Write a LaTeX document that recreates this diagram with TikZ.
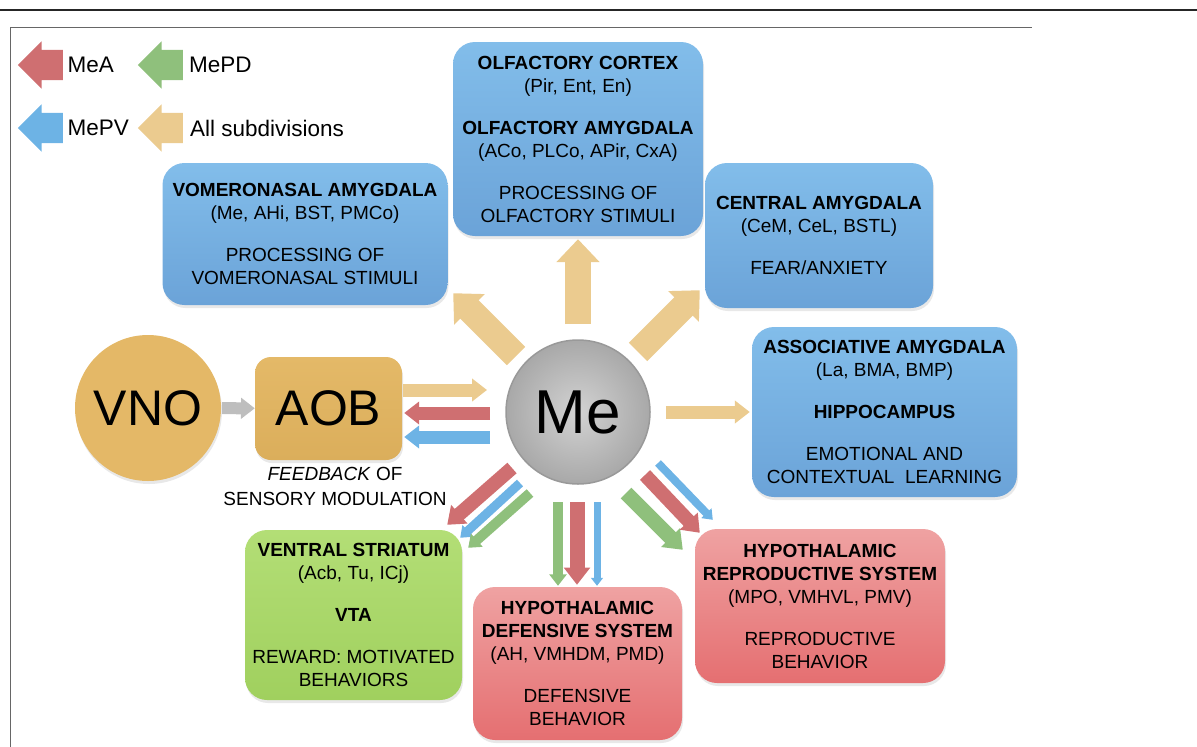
\documentclass[tikz,border=0pt]{standalone}
\usepackage{fontspec}
\setmainfont{Liberation Sans}
\usetikzlibrary{arrows.meta,shapes.arrows,shadows}

\definecolor{boxblueT}{HTML}{82BDEA}
\definecolor{boxblueB}{HTML}{6BA3D8}
\definecolor{boxredT}{HTML}{EFA2A2}
\definecolor{boxredB}{HTML}{E56F71}
\definecolor{boxgreenT}{HTML}{B3DE76}
\definecolor{boxgreenB}{HTML}{A0D05E}
\definecolor{goldT}{HTML}{E4B968}
\definecolor{goldB}{HTML}{DBAE5B}
\definecolor{meaRed}{HTML}{CF6F71}
\definecolor{mepdGreen}{HTML}{8FC07C}
\definecolor{mepvBlue}{HTML}{6DB3E5}
\definecolor{allTan}{HTML}{EBCB8F}
\definecolor{vnoGray}{HTML}{BEBEBE}

\tikzset{
  region/.style={rectangle, rounded corners=22pt, align=center, inner sep=2pt,
    font=\fontsize{19}{23}\selectfont,
    drop shadow={opacity=0.18, shadow xshift=1pt, shadow yshift=-3pt}},
  bluebox/.style={region, top color=boxblueT, bottom color=boxblueB},
  redbox/.style={region, top color=boxredT, bottom color=boxredB},
  greenbox/.style={region, top color=boxgreenT, bottom color=boxgreenB},
  flow/.style={line width=#1, -{Triangle[length=0pt 1.15, width=0pt 1.7]}},
  bigflow/.style={line width=26pt, -{Triangle[length=23pt, width=42pt]}},
  legarrow/.style={single arrow, shape border rotate=180, minimum height=45pt,
    inner xsep=4pt, inner ysep=15pt, single arrow head extend=8.5pt, anchor=tail},
  legtext/.style={anchor=west, inner sep=0pt, font=\fontsize{22.5}{26}\selectfont},
}

\begin{document}
\begin{tikzpicture}[x=1pt, y=-1pt]
    \useasboundingbox (0,0) rectangle (1197,747);

    % page rules
    \draw[line width=1.5pt, black!85] (0,10) -- (1197,10);
    \draw[line width=1pt, black!60] (10,747) -- (10,27) -- (1032,27);

    % legend
    \node[legarrow, fill=meaRed] (legA) at (63,65) {};
    \node[legtext] (txtA) at (67.5,65) {MeA};
    \node[legarrow, fill=mepdGreen] (legPD) at (183,65) {};
    \node[legtext] (txtPD) at (189,65) {MePD};
    \node[legarrow, fill=mepvBlue] (legPV) at (63,128) {};
    \node[legtext] (txtPV) at (67.5,128) {MePV};
    \node[legarrow, fill=allTan] (legAll) at (183,128) {};
    \node[legtext] (txtAll) at (190,128) {All subdivisions};

    % target regions
    \node[bluebox, minimum width=285pt, minimum height=142pt] (vom) at (305,234)
        {\textbf{VOMERONASAL AMYGDALA}\\(Me, AHi, BST, PMCo)\\[19pt]PROCESSING OF\\VOMERONASAL STIMULI};
    \node[bluebox, minimum width=250pt, minimum height=194pt] (olf) at (578,139)
        {\textbf{OLFACTORY CORTEX}\\(Pir, Ent, En)\\[19pt]\textbf{OLFACTORY AMYGDALA}\\(ACo, PLCo, APir, CxA)\\[19pt]PROCESSING OF\\OLFACTORY STIMULI};
    \node[bluebox, minimum width=228pt, minimum height=145pt] (cen) at (819,235.5)
        {\textbf{CENTRAL AMYGDALA}\\(CeM, CeL, BSTL)\\[19pt]FEAR/ANXIETY};
    \node[bluebox, minimum width=265pt, minimum height=170pt] (asc) at (884.5,412)
        {\textbf{ASSOCIATIVE AMYGDALA}\\(La, BMA, BMP)\\[19pt]\textbf{HIPPOCAMPUS}\\[19pt]EMOTIONAL AND\\CONTEXTUAL\ \ LEARNING};
    \node[greenbox, minimum width=217pt, minimum height=170pt] (vst) at (353.5,615)
        {\textbf{VENTRAL STRIATUM}\\(Acb, Tu, ICj)\\[19pt]\textbf{VTA}\\[19pt]REWARD: MOTIVATED\\BEHAVIORS};
    \node[redbox, minimum width=209pt, minimum height=153pt] (def) at (577.5,663.5)
        {\textbf{HYPOTHALAMIC}\\\textbf{DEFENSIVE SYSTEM}\\(AH, VMHDM, PMD)\\[19pt]DEFENSIVE\\BEHAVIOR};
    \node[redbox, minimum width=250pt, minimum height=154pt] (rep) at (820,606)
        {\textbf{HYPOTHALAMIC}\\\textbf{REPRODUCTIVE SYSTEM}\\(MPO, VMHVL, PMV)\\[19pt]REPRODUCTIVE\\BEHAVIOR};

    % input pathway
    \node[circle, minimum size=146pt, inner sep=0pt, fill=goldT!95!goldB,
        drop shadow={opacity=0.18, shadow xshift=1pt, shadow yshift=-3pt},
        font=\fontsize{50}{60}\selectfont] (vno) at (148,408) {VNO};
    \node[rectangle, rounded corners=16pt, minimum width=147pt, minimum height=103pt,
        top color=goldT, bottom color=goldB,
        drop shadow={opacity=0.18, shadow xshift=1pt, shadow yshift=-3pt},
        font=\fontsize{50}{60}\selectfont] (aob) at (328.5,408.5) {AOB};
    \node[align=center, font=\fontsize{19}{25}\selectfont] (fb) at (335,486)
        {\textit{FEEDBACK} OF\\SENSORY MODULATION};

    % medial amygdala
    \node[circle, minimum size=144pt, inner sep=0pt, draw=gray!80, line width=1.5pt,
        inner color=gray!35, outer color=gray!68,
        font=\fontsize{62}{70}\selectfont] (me) at (578,412) {Me};

    % VNO -> AOB <-> Me
    \draw[flow=12pt, vnoGray, shorten <=1pt] (vno) -- (aob);
    \draw[flow=13pt, allTan] ([shift={(1,-18.5)}]aob.east) -- ([shift={(-91,-22)}]me.center);
    \draw[flow=13pt, meaRed] ([shift={(-88,1)}]me.center) -- ([shift={(2,4.5)}]aob.east);
    \draw[flow=13pt, mepvBlue] ([shift={(-88,25)}]me.center) -- ([shift={(2,28.5)}]aob.east);

    % all subdivisions
    \draw[bigflow, allTan] ([shift={(-62,-56)}]me.center) -- ([shift={(5.5,-12)}]vom.south east);
    \draw[bigflow, allTan] ([shift={(0,-88)}]me.center) -- ([shift={(0,3)}]olf.south);
    \draw[bigflow, allTan] ([shift={(60,-60)}]me.center) -- ([shift={(-5,-18)}]cen.south west);
    \draw[flow=13pt, allTan, shorten <=15pt, shorten >=2pt] (me) -- (asc);

    % to ventral striatum
    \draw[flow=14pt, meaRed] ([shift={(-66,56)}]me.center) -- ([shift={(-15,-5)}]vst.north east);
    \draw[flow=9pt, mepvBlue] ([shift={(-58,71)}]me.center) -- ([shift={(-2,8)}]vst.north east);
    \draw[flow=10pt, mepdGreen] ([shift={(-48,81)}]me.center) -- ([shift={(6,18)}]vst.north east);

    % to defensive system
    \draw[flow=10pt, mepdGreen] ([shift={(-20,90)}]me.center) -- ([shift={(-19.5,-1)}]def.north);
    \draw[flow=15pt, meaRed] ([shift={(-1,90)}]me.center) -- ([shift={(-0.5,-2)}]def.north);
    \draw[flow=7pt, mepvBlue] ([shift={(19,90)}]me.center) -- ([shift={(19.5,-1)}]def.north);

    % to reproductive system
    \draw[flow=15pt, mepdGreen] ([shift={(48,81)}]me.center) -- ([shift={(-12,21)}]rep.north west);
    \draw[flow=14pt, meaRed] ([shift={(67,63)}]me.center) -- ([shift={(5,4)}]rep.north west);
    \draw[flow=8pt, mepvBlue] ([shift={(80,51)}]me.center) -- ([shift={(18,-9)}]rep.north west);
\end{tikzpicture}
\end{document}
